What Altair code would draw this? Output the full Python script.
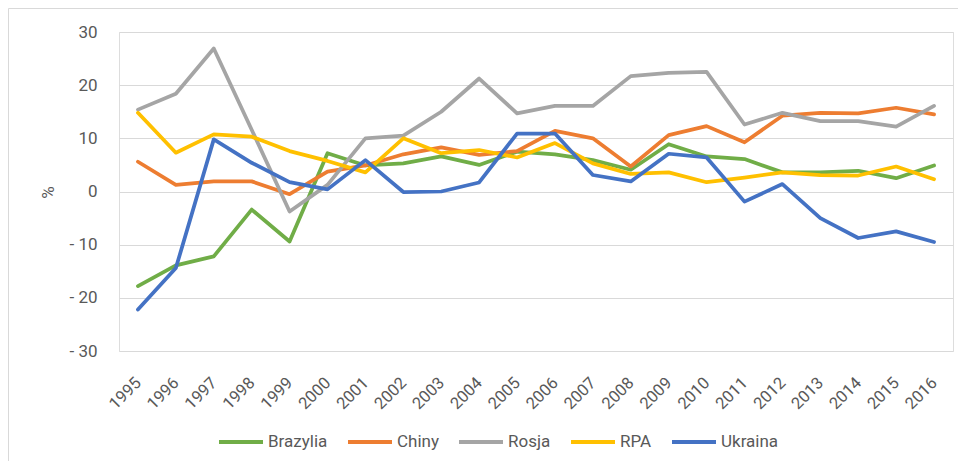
import altair as alt
import pandas as pd

years = [str(y) for y in range(1995, 2017)]
series = ["Brazylia", "Chiny", "Rosja", "RPA", "Ukraina"]
colors = ["#70AD47", "#ED7D31", "#A5A5A5", "#FFC000", "#4472C4"]

brazylia = [-17.8, -13.9, -12.2, -3.4, -9.4, 7.2, 4.9, 5.3, 6.6, 5.0, 7.5,
            7.0, 5.9, 4.1, 8.9, 6.6, 6.1, 3.6, 3.6, 3.9, 2.5, 4.9]
chiny = [5.6, 1.25, 1.9, 1.9, -0.5, 3.75, 4.9, 7.0, 8.3, 6.9, 7.6,
         11.4, 10.0, 4.7, 10.6, 12.3, 9.25, 14.25, 14.8, 14.7, 15.75, 14.5]
rosja = [15.4, 18.4, 26.9, 11.6, -3.75, 1.25, 10.0, 10.5, 15.0, 21.25, 14.7,
         16.1, 16.1, 21.7, 22.3, 22.5, 12.6, 14.8, 13.25, 13.25, 12.2, 16.1]
rpa = [14.8, 7.3, 10.75, 10.3, 7.6, 5.75, 3.6, 10.0, 7.2, 7.8, 6.4,
       9.1, 5.3, 3.3, 3.6, 1.75, 2.6, 3.6, 3.1, 3.0, 4.7, 2.3]
ukraina = [-22.2, -14.4, 9.8, 5.4, 1.75, 0.4, 5.9, -0.1, 0.0, 1.7, 10.9,
           10.9, 3.1, 1.9, 7.1, 6.4, -1.9, 1.4, -5.0, -8.75, -7.5, -9.5]

y_ticks = [-30, -20, -10, 0, 10, 20, 30]

values = [brazylia, chiny, rosja, rpa, ukraina]
rows = []
for name, vals in zip(series, values):
    for yr, v in zip(years, vals):
        rows.append({"rok": yr, "kraj": name, "wartosc": v})
df = pd.DataFrame(rows)

FONT = "Roboto"
TXT = "#595959"
GRID = "#D9D9D9"

lines = alt.Chart(df).mark_line(strokeWidth=3.75, strokeJoin="round", strokeCap="round").encode(
    x=alt.X("rok:O", sort=years,
            scale=alt.Scale(type="point", padding=0.5),
            axis=alt.Axis(title=None, labelAngle=-45, labelAlign="right",
                          labelBaseline="middle", labelPadding=29, ticks=False,
                          domain=False, grid=False, labelFont=FONT,
                          labelFontSize=16.5, labelColor=TXT)),
    y=alt.Y("wartosc:Q",
            scale=alt.Scale(domain=[-30, 30], nice=False, zero=False),
            axis=alt.Axis(values=y_ticks, title="%", titleAngle=-90,
                          titleX=-71, titleY=160, titleAlign="center",
                          titleBaseline="middle", titleFont=FONT,
                          titleFontSize=17, titleFontWeight="normal",
                          titleColor=TXT, labelFont=FONT, labelFontSize=17,
                          labelColor=TXT, labelPadding=22, ticks=False,
                          domain=False, grid=True, gridColor=GRID,
                          gridWidth=1.2,
                          labelExpr="datum.value < 0 ? '- ' + abs(datum.value) : '' + datum.value")),
    color=alt.Color("kraj:N",
                    scale=alt.Scale(domain=series, range=colors),
                    legend=alt.Legend(title=None, orient="none", legendX=98,
                                      legendY=386, direction="horizontal",
                                      columns=5, gridAlign="none",
                                      symbolType="stroke",
                                      symbolSize=1936, symbolStrokeWidth=4,
                                      labelFont=FONT, labelFontSize=17,
                                      labelColor=TXT, labelOffset=3,
                                      columnPadding=12)),
    order=alt.Order("rok:O"),
)

frame = alt.Chart(alt.Data(values=[{}])).mark_rect(
    filled=False, stroke=GRID, strokeWidth=1
).encode(
    x=alt.value(-110.5), x2=alt.value(950), y=alt.value(-23.5), y2=alt.value(600)
)

chart = alt.layer(frame, lines).properties(
    width=834, height=319,
    autosize=alt.AutoSizeParams(type="none"),
    padding={"left": 111, "top": 24, "right": 5, "bottom": 110},
).configure_view(stroke=None).configure(background="white")

chart.save("out.html", embed_options={"renderer": "svg", "actions": False})
